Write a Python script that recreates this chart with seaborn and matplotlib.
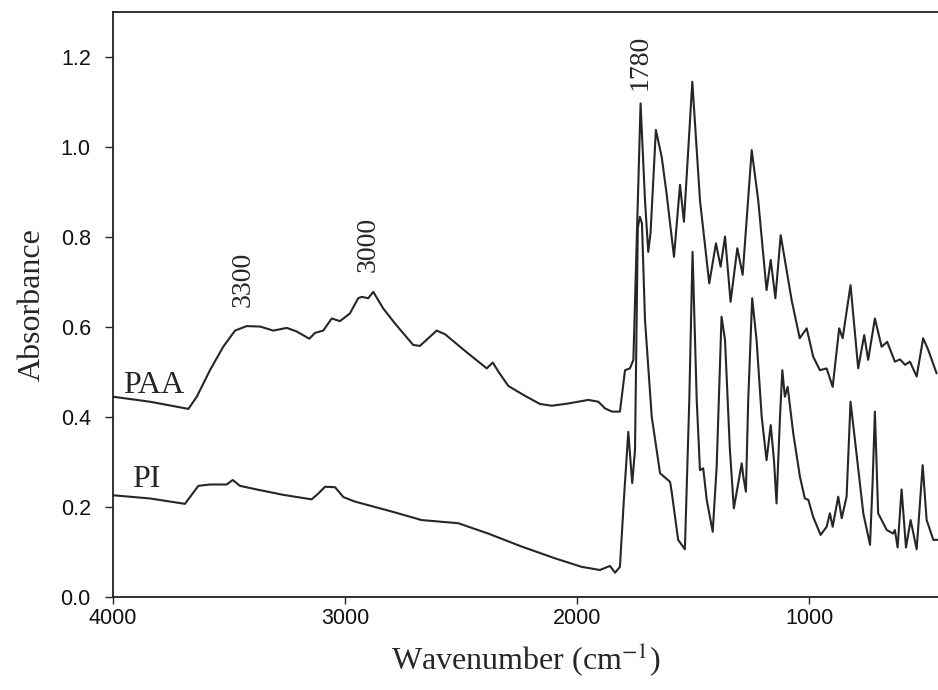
import matplotlib
matplotlib.use("Agg")
import matplotlib.pyplot as plt
import seaborn as sns
import pandas as pd

# ---- data ----
paa_wn = [3999, 3841, 3675, 3639, 3582, 3525, 3474, 3424, 3366, 3309, 3251, 3208,
          3154, 3129, 3094, 3057, 3022, 2979, 2943, 2928, 2900, 2878, 2835, 2785,
          2706, 2677, 2605, 2569, 2483, 2389, 2363, 2339, 2296, 2224, 2160, 2109,
          2038, 1951, 1908, 1879, 1849, 1815, 1793, 1772, 1757, 1726, 1707, 1693,
          1683, 1660, 1635, 1614, 1582, 1556, 1539, 1503, 1470, 1430, 1401, 1381,
          1362, 1338, 1309, 1286, 1247, 1219, 1183, 1165, 1145, 1122, 1104, 1075,
          1040, 1010, 982, 953, 924, 898, 870, 855, 821, 788, 762, 745, 716, 687,
          663, 630, 608, 586, 565, 536, 508, 486, 450]
paa_abs = [0.445, 0.434, 0.418, 0.445, 0.504, 0.556, 0.592, 0.602, 0.601, 0.592, 0.598, 0.590,
           0.574, 0.587, 0.592, 0.619, 0.613, 0.630, 0.664, 0.667, 0.664, 0.678, 0.641, 0.608,
           0.560, 0.558, 0.592, 0.584, 0.547, 0.508, 0.521, 0.501, 0.469, 0.447, 0.429, 0.425,
           0.430, 0.438, 0.434, 0.419, 0.412, 0.412, 0.504, 0.508, 0.527, 1.097, 0.882, 0.767,
           0.809, 1.038, 0.978, 0.897, 0.756, 0.916, 0.834, 1.145, 0.882, 0.697, 0.786, 0.734,
           0.801, 0.656, 0.775, 0.716, 0.993, 0.882, 0.682, 0.749, 0.664, 0.804, 0.749, 0.660,
           0.575, 0.597, 0.534, 0.504, 0.508, 0.467, 0.597, 0.575, 0.693, 0.508, 0.582, 0.527,
           0.619, 0.556, 0.567, 0.523, 0.528, 0.516, 0.523, 0.490, 0.575, 0.549, 0.497]

pi_wn = [3999, 3841, 3690, 3661, 3632, 3582, 3510, 3484, 3453, 3381, 3266, 3144,
         3115, 3086, 3043, 3007, 2957, 2799, 2670, 2512, 2383, 2238, 2095, 1980,
         1901, 1858, 1836, 1815, 1798, 1779, 1762, 1750, 1738, 1729, 1720, 1707,
         1678, 1642, 1599, 1592, 1564, 1535, 1516, 1502, 1484, 1470, 1456, 1441,
         1415, 1398, 1377, 1362, 1341, 1324, 1290, 1283, 1272, 1262, 1245, 1226,
         1204, 1183, 1165, 1151, 1140, 1125, 1115, 1104, 1092, 1068, 1039, 1018,
         1003, 982, 950, 924, 910, 898, 874, 859, 838, 821, 802, 766, 737, 726,
         716, 702, 665, 637, 630, 618, 601, 582, 562, 536, 510, 493, 464, 444]
pi_abs = [0.226, 0.219, 0.207, 0.227, 0.247, 0.250, 0.250, 0.260, 0.247, 0.239, 0.227, 0.217,
          0.230, 0.245, 0.244, 0.222, 0.212, 0.190, 0.171, 0.164, 0.141, 0.112, 0.086, 0.067,
          0.060, 0.069, 0.054, 0.067, 0.216, 0.367, 0.253, 0.327, 0.820, 0.845, 0.830, 0.616,
          0.401, 0.275, 0.256, 0.234, 0.127, 0.106, 0.438, 0.767, 0.438, 0.282, 0.286, 0.216,
          0.145, 0.290, 0.623, 0.571, 0.327, 0.197, 0.297, 0.267, 0.234, 0.438, 0.664, 0.571,
          0.401, 0.304, 0.382, 0.304, 0.208, 0.401, 0.504, 0.445, 0.467, 0.364, 0.267, 0.219,
          0.216, 0.178, 0.138, 0.156, 0.186, 0.156, 0.223, 0.175, 0.223, 0.434, 0.349, 0.186,
          0.116, 0.253, 0.412, 0.186, 0.149, 0.141, 0.149, 0.110, 0.239, 0.110, 0.171, 0.106,
          0.293, 0.171, 0.127, 0.127]

series_labels = ["PAA", "PI"]
peak_labels = ["3300", "3000", "1780"]
peak_pos = [(3438, 0.645), (2901, 0.723), (1729, 1.127)]
yticks = [0.0, 0.2, 0.4, 0.6, 0.8, 1.0, 1.2]
xticks = [4000, 3000, 2000, 1000]

sns.set_style("ticks")
plt.rcParams["font.family"] = ["Liberation Serif", "DejaVu Serif"]
plt.rcParams["mathtext.fontset"] = "stix"

fig = plt.figure(figsize=(9.38, 6.90), dpi=100)
ax = fig.add_axes([113 / 938, 1 - 597 / 690, 1 - 113 / 938, (597 - 12) / 690])

df_paa = pd.DataFrame({"wn": paa_wn, "abs": paa_abs})
df_pi = pd.DataFrame({"wn": pi_wn, "abs": pi_abs})
line_col = "#262626"
sns.lineplot(data=df_paa, x="wn", y="abs", ax=ax, color=line_col, lw=1.5, sort=False)
sns.lineplot(data=df_pi, x="wn", y="abs", ax=ax, color=line_col, lw=1.5, sort=False)

ax.set_xlim(4000, 444)
ax.set_ylim(0, 1.3)
ax.set_xticks(xticks)
ax.set_yticks(yticks)
ax.set_yticklabels([f"{v:.1f}" for v in yticks])
ax.set_xticklabels([str(v) for v in xticks])
for lab in ax.get_xticklabels() + ax.get_yticklabels():
    lab.set_fontfamily("Liberation Sans")
    lab.set_fontsize(15.5)
    lab.set_color("#111111")
ax.tick_params(axis="x", direction="out", length=5, width=1, pad=3)
ax.tick_params(axis="y", direction="out", length=6, width=1, pad=10)

for s in ["top", "left", "bottom"]:
    ax.spines[s].set_visible(True)
    ax.spines[s].set_linewidth(1.3)
    ax.spines[s].set_color("#222222")
ax.spines["right"].set_visible(False)

ax.set_xlabel("Wavenumber (cm$^{\\mathrm{-1}}$)", fontsize=23, labelpad=8)
ax.set_ylabel("Absorbance", fontsize=23, labelpad=10)

ax.text(3957, 0.453, series_labels[0], fontsize=23, ha="left", va="baseline")
ax.text(3919, 0.244, series_labels[1], fontsize=23, ha="left", va="baseline")
for lab, (x, y) in zip(peak_labels, peak_pos):
    ax.text(x, y, lab, fontsize=20, rotation=90, ha="center", va="bottom")

fig.savefig("out.png", dpi=100)
